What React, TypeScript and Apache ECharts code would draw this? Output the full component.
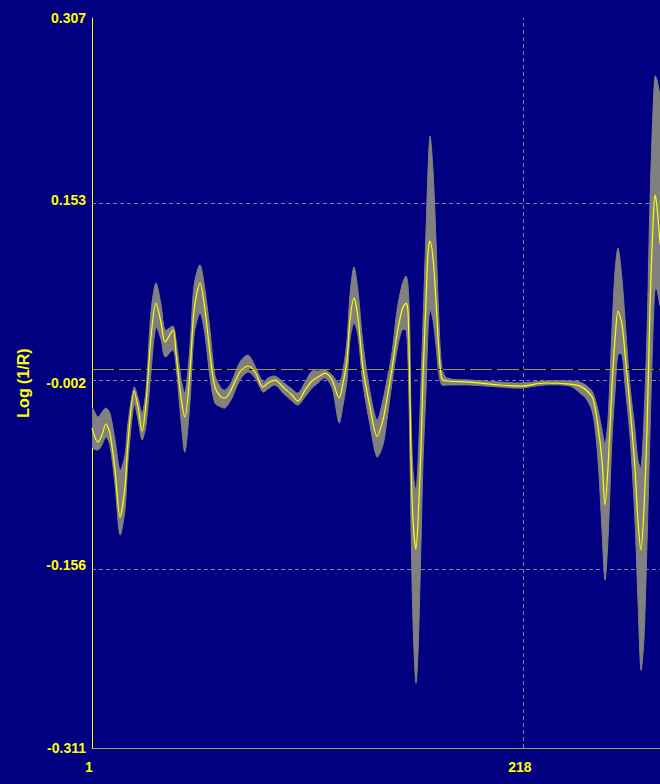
import React, { useEffect, useRef } from "react";
import * as echarts from "echarts";

// Wavelength index (x) of each sampled point
const xIndex = [
  1, 4, 6, 8, 10, 12.6, 15.1, 17.6, 19.1, 22.2,
  24.2, 26.2, 28.2, 30.7, 33.2, 35.8, 37.8, 41.8, 43.3, 45.8,
  47.8, 50.4, 52.4, 55.4, 57.9, 60.4, 62.9, 66, 68, 71,
  75.5, 79.6, 83.1, 87.1, 89.6, 93.2, 97.2, 101.7, 104.7, 108.3,
  111.8, 114.8, 118.3, 121.9, 125.4, 127.4, 129.4, 130.9, 132.9, 134.9,
  137.5, 141, 144.5, 147.5, 149.5, 152.1, 154.6, 157.1, 159.1, 160.1,
  160.9, 161.6, 162.6, 164.1, 165.2, 166.7, 167.7, 169.2, 170.2, 171.2,
  172.7, 174.2, 175.7, 177.2, 179.8, 191.3, 206.4, 216.5, 229.1, 241.7,
  246.7, 250.3, 253.3, 255.8, 257.8, 259.3, 260.8, 262.8, 264.4, 265.9,
  267.9, 269.4, 271.9, 274.4, 275.9, 277.4, 278.9, 280.5, 282, 283.5,
  284.5, 285.5, 287,
];

// Mean spectrum (yellow)
const meanSpectrum = [
  -0.0401, -0.052, -0.0461, -0.0367, -0.0444, -0.0757, -0.1155, -0.0901, -0.0528, -0.0088,
  -0.0224, -0.0427, -0.019, 0.0369, 0.0657, 0.0488, 0.0327, 0.0428, 0.0234, -0.0139,
  -0.0308, 0.009, 0.0598, 0.0826, 0.0598, 0.0234, -0.0054, -0.0139, -0.0147, -0.008,
  0.0073, 0.0124, 0.0073, -0.0054, -0.002, 0.0005, -0.0054, -0.0122, -0.0173, -0.008,
  -0.0003, 0.003, 0.0064, 0.0005, -0.0147, -0.002, 0.0174, 0.0513, 0.0699, 0.0539,
  0.0098, -0.0224, -0.0469, -0.0334, -0.0156, 0.0107, 0.0395, 0.0598, 0.0657, 0.0581,
  0.0073, -0.063, -0.1172, -0.1426, -0.1172, -0.0554, 0.0056, 0.0674, 0.1089, 0.1182,
  0.1038, 0.0674, 0.0242, 0.0014, -0.0003, -0.0012, -0.0037, -0.0046, -0.002, -0.0029,
  -0.0046, -0.0088, -0.0156, -0.0393, -0.0672, -0.1053, -0.074, -0.0054, 0.0361, 0.0589,
  0.0471, 0.0225, -0.0224, -0.074, -0.1189, -0.1434, -0.1087, -0.0393, 0.064, 0.1334,
  0.1572, 0.147, 0.1157,
];

// Upper edge of the spread of all spectra (grey band)
const upperEnvelope = [
  -0.0232, -0.0308, -0.0266, -0.0232, -0.0274, -0.0503, -0.0757, -0.063, -0.0359, -0.0054,
  -0.0147, -0.0274, -0.008, 0.0581, 0.0826, 0.064, 0.0428, 0.0462, 0.0344, 0.0022,
  -0.0105, 0.0301, 0.0809, 0.0979, 0.0767, 0.0428, 0.0047, -0.0063, -0.008, -0.002,
  0.0157, 0.0217, 0.0124, -0.0012, 0.0022, 0.0039, -0.0012, -0.0071, -0.0105, -0.0012,
  0.0081, 0.0081, 0.009, 0.0047, -0.002, 0.009, 0.0344, 0.0725, 0.0962, 0.0767,
  0.0301, -0.0097, -0.0334, -0.0164, 0.0005, 0.0242, 0.0598, 0.0809, 0.0886, 0.0809,
  0.0513, -0.0249, -0.0757, -0.0926, -0.0674, 0.0005, 0.0513, 0.1275, 0.1783, 0.2071,
  0.1783, 0.1191, 0.0513, 0.0107, 0.0022, 0.0005, -0.0012, -0.002, -0.0003, -0.0003,
  -0.0012, -0.0046, -0.0105, -0.0249, -0.0418, -0.0537, -0.0334, 0.0428, 0.0936, 0.1123,
  0.0852, 0.0513, -0.0046, -0.0418, -0.0672, -0.074, -0.0334, 0.0428, 0.1529, 0.2291,
  0.2579, 0.2545, 0.2376,
];

// Lower edge of the spread of all spectra (grey band)
const lowerEnvelope = [
  -0.0562, -0.0588, -0.0545, -0.0478, -0.0545, -0.0884, -0.1307, -0.1096, -0.0689, -0.0198,
  -0.0334, -0.0503, -0.0376, 0.0073, 0.0454, 0.0344, 0.02, 0.0259, 0.0132, -0.0334,
  -0.0605, -0.0164, 0.0386, 0.0572, 0.0386, 0.003, -0.019, -0.0224, -0.0232, -0.0164,
  0.0005, 0.0073, 0.0022, -0.0097, -0.0071, -0.0037, -0.0105, -0.0173, -0.0207, -0.0139,
  -0.0063, -0.002, 0.0022, -0.0063, -0.0359, -0.0207, 0.0005, 0.0344, 0.0488, 0.0386,
  -0.0037, -0.0376, -0.0647, -0.0545, -0.0334, -0.0012, 0.0259, 0.0428, 0.0428, 0.0174,
  -0.0418, -0.118, -0.2027, -0.2561, -0.2281, -0.135, -0.0672, -0.008, 0.0428, 0.0598,
  0.0513, 0.0301, 0.0047, -0.0037, -0.0037, -0.0037, -0.0054, -0.0063, -0.0037, -0.0046,
  -0.0105, -0.0164, -0.0291, -0.0672, -0.1265, -0.1688, -0.135, -0.0503, -0.008, 0.0225,
  0.0217, -0.0037, -0.0469, -0.118, -0.1858, -0.245, -0.2196, -0.135, -0.0418, 0.0428,
  0.0776, 0.0767, 0.064,
];

const yTickValues = [-0.311, -0.156, -0.002, 0.153, 0.307];
const xTickValues = [1, 218];
const referenceLevel = 0.0098;
const xMin = 1;
const xMax = 287;
const yMin = -0.311;
const yMax = 0.307;
const yAxisTitle = "Log (1/R)";

const FONT = "'Liberation Sans', Arial, sans-serif";
const YELLOW = "#ffff00";
const NAVY = "#000080";
const GRID_COLOR = "#8080a0";
const BAND_COLOR = "#808080";
const OLIVE = "#9a9a42";

export default function App() {
  const ref = useRef<HTMLDivElement>(null);

  useEffect(() => {
    if (!ref.current) return;
    const chart = echarts.init(ref.current, null, { renderer: "svg" });

    const meanData = xIndex.map((x, i) => [x, meanSpectrum[i]]);

    const gridLines = [
      ...yTickValues.filter((v) => v !== yMin).map((v) => ({ yAxis: v })),
      ...xTickValues.filter((v) => v !== xMin).map((v) => ({ xAxis: v })),
    ];

    const refLine = (color: string, type: any, z: number) => ({
      type: "line",
      z,
      data: [],
      silent: true,
      color,
      markLine: {
        silent: true,
        symbol: "none",
        label: { show: false },
        lineStyle: { color, type, width: 1 },
        data: [{ yAxis: referenceLevel }],
      },
    });

    chart.setOption({
      animation: false,
      backgroundColor: NAVY,
      grid: { left: 92, top: 18, right: 0, bottom: 36, containLabel: false },
      xAxis: {
        type: "value",
        min: xMin,
        max: xMax,
        axisLine: { show: true, onZero: false, lineStyle: { color: "#a8a858", width: 1 } },
        axisTick: { show: false },
        splitLine: { show: false },
        axisLabel: {
          customValues: xTickValues,
          color: YELLOW,
          fontFamily: FONT,
          fontWeight: "bold",
          fontSize: 14,
          margin: 12,
          padding: [0, 6, 0, 0],
        },
      },
      yAxis: {
        type: "value",
        min: yMin,
        max: yMax,
        name: yAxisTitle,
        nameLocation: "middle",
        nameRotate: 90,
        nameGap: 61,
        nameTextStyle: {
          color: YELLOW,
          fontFamily: FONT,
          fontWeight: "bold",
          fontSize: 16,
        },
        axisLine: { show: true, onZero: false, lineStyle: { color: YELLOW, width: 1 } },
        axisTick: { show: false },
        splitLine: { show: false },
        axisLabel: {
          customValues: yTickValues,
          formatter: (v: number) => v.toFixed(3),
          color: YELLOW,
          fontFamily: FONT,
          fontWeight: "bold",
          fontSize: 14,
          margin: 6,
        },
      },
      series: [
        {
          name: "grid",
          type: "line",
          z: 1,
          data: meanData,
          showSymbol: false,
          silent: true,
          lineStyle: { opacity: 0, width: 0 },
          markLine: {
            silent: true,
            symbol: "none",
            label: { show: false },
            lineStyle: { color: GRID_COLOR, type: [4, 3], width: 1 },
            data: gridLines,
          },
        },
        {
          name: "spread",
          type: "custom",
          z: 2,
          silent: true,
          clip: true,
          data: [[xMin, 0]],
          renderItem: (_params: any, api: any) => {
            const top = xIndex.map((x, i) => api.coord([x, upperEnvelope[i]]));
            const bottom = xIndex
              .map((x, i) => api.coord([x, lowerEnvelope[i]]))
              .reverse();
            return {
              type: "polygon",
              shape: { points: top.concat(bottom), smooth: 0.3 },
              style: { fill: BAND_COLOR, stroke: BAND_COLOR, lineWidth: 1 },
            };
          },
        },
        refLine("#000000", "solid", 3),
        refLine(OLIVE, [22, 5], 4),
        {
          name: "mean",
          type: "line",
          z: 5,
          data: meanData,
          smooth: 0.3,
          showSymbol: false,
          silent: true,
          clip: true,
          lineStyle: { color: YELLOW, width: 1.2 },
        },
      ],
    });

    return () => chart.dispose();
  }, []);

  return (
    <div
      ref={ref}
      style={{ position: "fixed", left: 0, top: 0, width: 660, height: 784 }}
    />
  );
}
